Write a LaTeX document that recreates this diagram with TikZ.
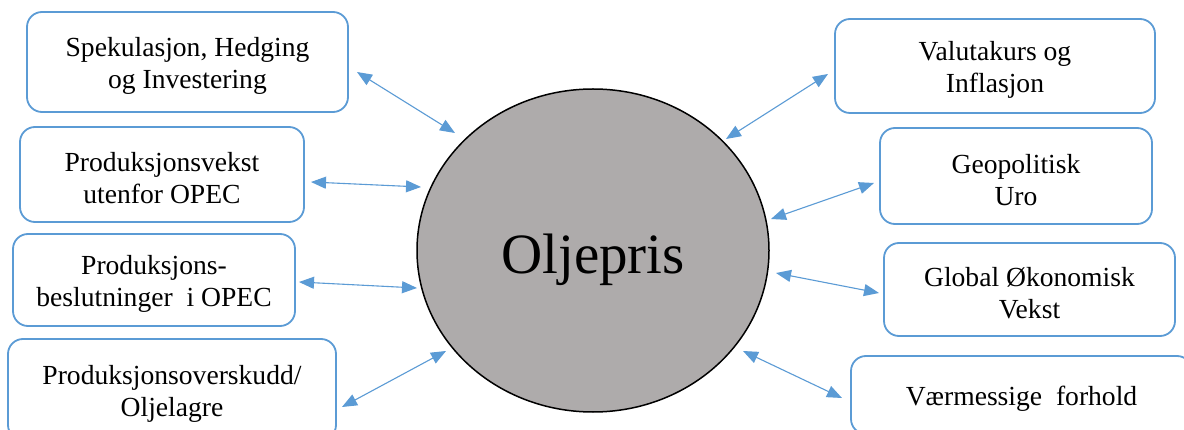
\documentclass[tikz,border=0pt]{standalone}
\usepackage{fontspec}
\setmainfont{Liberation Serif}
\usetikzlibrary{arrows.meta,shapes.geometric}
\definecolor{boxblue}{RGB}{91,155,213}
\definecolor{oilgray}{RGB}{174,171,171}
\newcommand\topstrut{\rule{0pt}{27pt}}
\tikzset{
  factor/.style={draw=boxblue, line width=1.8pt, rounded corners=15pt, fill=white,
    inner sep=0pt, align=center, font=\fontsize{27.6}{32}\selectfont},
  link/.style={draw=boxblue, line width=1.1pt,
    {Triangle[length=15pt,width=12pt]}-{Triangle[length=15pt,width=12pt]}},
  hub/.style={ellipse, draw=black, line width=1.5pt, fill=oilgray, inner sep=0pt,
    font=\fontsize{57}{64}\selectfont}
}
\begin{document}
\begin{tikzpicture}[x=1pt,y=-1pt]
\useasboundingbox (0,0) rectangle (1184,430);
\clip (0,0) rectangle (1184,430);
\fill[white] (0,0) rectangle (1184,430);

\node[hub, minimum width=352pt, minimum height=323pt] (c) at (593,250.5) {\raisebox{-9pt}[\height][\depth]{Oljepris}};

\node[factor, minimum width=321pt, minimum height=100pt] (b1) at (187.5,62) {\topstrut Spekulasjon, Hedging\\og Investering};
\node[factor, minimum width=284pt, minimum height=95pt] (b2) at (162,174.5) {\topstrut Produksjonsvekst\\utenfor OPEC};
\node[factor, minimum width=282pt, minimum height=92pt] (b3) at (154,280) {\topstrut Produksjons-\\beslutninger\ \ i OPEC};
\node[factor, minimum width=328pt, minimum height=101pt] (b4) at (172,389.5) {\topstrut Produksjonsoverskudd/\\Oljelagre};
\node[factor, minimum width=320pt, minimum height=94pt] (b5) at (995,66) {\topstrut Valutakurs og\\Inflasjon};
\node[factor, minimum width=272pt, minimum height=96pt] (b6) at (1016,176) {\topstrut Geopolitisk\\Uro};
\node[factor, minimum width=291pt, minimum height=93pt] (b7) at (1029.5,289.5) {\topstrut Global Økonomisk\\Vekst};
\node[factor, minimum width=341pt, minimum height=78pt] (b8) at (1021.5,395) {\topstrut Værmessige\ \ forhold};

\coordinate (a1s) at (357,72);  \coordinate (a1e) at (455,133);
\coordinate (a2s) at (311,182); \coordinate (a2e) at (421,187);
\coordinate (a3s) at (299,282); \coordinate (a3e) at (417,288);
\coordinate (a4s) at (342,407); \coordinate (a4e) at (446,351);
\coordinate (a5s) at (828,74);  \coordinate (a5e) at (726,139);
\coordinate (a6s) at (874,183); \coordinate (a6e) at (771,219);
\coordinate (a7s) at (879,293); \coordinate (a7e) at (776,273);
\coordinate (a8s) at (842,398); \coordinate (a8e) at (743,351);

\draw[link] (a1s) -- (a1e);
\draw[link] (a2s) -- (a2e);
\draw[link] (a3s) -- (a3e);
\draw[link] (a4s) -- (a4e);
\draw[link] (a5s) -- (a5e);
\draw[link] (a6s) -- (a6e);
\draw[link] (a7s) -- (a7e);
\draw[link] (a8s) -- (a8e);
\end{tikzpicture}
\end{document}
